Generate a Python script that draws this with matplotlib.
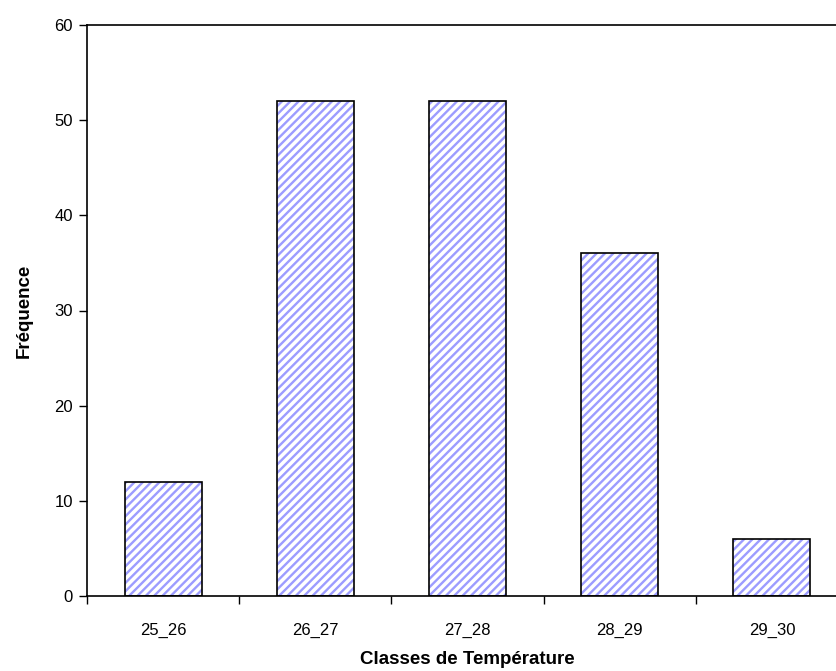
import numpy as np
import matplotlib.pyplot as plt

plt.rcParams['font.family'] = ['Liberation Sans', 'DejaVu Sans']
plt.rcParams['hatch.linewidth'] = 1.7

classes = ['25_26', '26_27', '27_28', '28_29', '29_30']
freq = [12, 52, 52, 36, 6]

fig = plt.figure(figsize=(8.36, 6.71), dpi=100)
# right edge of the axes lies just past the figure, as in the original
ax = fig.add_axes([87/836, 75/671, (848-87)/836, (596-25)/671])

x = np.arange(len(classes))
# hatch drawn in blue, outline drawn separately in black
ax.bar(x, freq, width=0.505, facecolor='white', edgecolor='#9c9cff',
       linewidth=0, hatch='////')
ax.bar(x, freq, width=0.505, fill=False, edgecolor='black', linewidth=1.2)

ax.set_xlim(-0.5, len(classes) - 0.5)
ax.set_ylim(0, 60)
ax.set_yticks(range(0, 61, 10))
ax.set_xticks(x)
ax.set_xticklabels(classes)
ax.set_xticks(np.arange(-0.5, len(classes)), minor=True)
ax.tick_params(axis='x', which='major', length=0, labelsize=12, pad=19)
ax.tick_params(axis='x', which='minor', length=6, width=1, direction='out')
ax.tick_params(axis='y', length=6, width=1, direction='out', labelsize=12, pad=4)

ax.spines['right'].set_visible(False)
for s in ax.spines.values():
    s.set_linewidth(1.2)

ax.set_xlabel('Classes de Température', fontsize=13.5, fontweight='bold', labelpad=10)
ax.set_ylabel('Fréquence', fontsize=13.5, fontweight='bold', labelpad=16)

fig.savefig('out.png', dpi=100)
